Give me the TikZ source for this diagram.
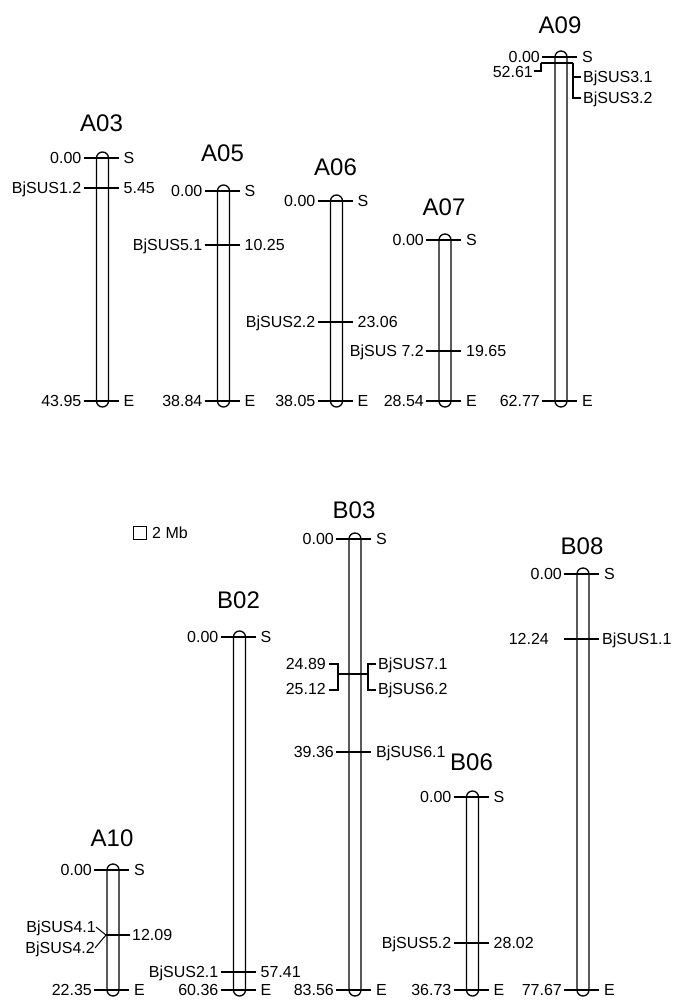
\documentclass[tikz,border=0pt]{standalone}
\usepackage{fontspec}
\setmainfont{Liberation Sans}
\tikzset{
  chr/.style={draw, line width=1.3pt, rounded corners=6pt},
  tk/.style={line width=1.3pt},
  lab/.style={font=\fontsize{16}{16}\selectfont, inner sep=0pt, text height=11.5pt, text depth=0pt},
  ttl/.style={font=\fontsize{24}{24}\selectfont, inner sep=0pt, text height=17pt, text depth=0pt},
}
% #1 id, #2 cx, #3 y, #4 left text, #5 right text
\newcommand\chrtick[5]{%
  \coordinate (#1-l) at ({#2-19},#3);
  \coordinate (#1-r) at ({#2+16},#3);
  \draw[tk] (#1-l) -- (#1-r);
  \node[lab,anchor=east] (#1-lt) at ({#2-21},#3) {#4};
  \node[lab,anchor=west] (#1-rt) at ({#2+21},#3) {#5};
}
% #1 id, #2 cx, #3 top, #4 bottom, #5 title, #6 end value, #7 title y
\newcommand\chromo[7]{%
  \draw[chr] ({#2-6},{#3-6}) rectangle ({#2+6},{#4+6});
  \node[ttl] (#1) at ({#2-1},#7) {#5};
  \chrtick{#1s}{#2}{#3}{0.00}{S}
  \chrtick{#1e}{#2}{#4}{#6}{E}
}
\begin{document}
\begin{tikzpicture}[x=1pt,y=-1pt]
\useasboundingbox (0,0) rectangle (675,1000);
% top row
\chromo{A03}{102.5}{158}{401}{A03}{43.95}{123.5}
\chrtick{A03a}{102.5}{188}{BjSUS1.2}{5.45}
\chromo{A05}{223.5}{191}{401}{A05}{38.84}{153}
\chrtick{A05a}{223.5}{245}{BjSUS5.1}{10.25}
\chromo{A06}{336.5}{201}{401}{A06}{38.05}{167}
\chrtick{A06a}{336.5}{322}{BjSUS2.2}{23.06}
\chromo{A07}{445}{240}{401}{A07}{28.54}{207}
\chrtick{A07a}{445}{351}{BjSUS 7.2}{19.65}
\chromo{A09}{561}{57}{401}{A09}{62.77}{25}
% A09 clustered genes
\coordinate (A09b-l) at (541,63);
\coordinate (A09b-r) at (573,63);
\draw[tk] (A09b-l) -- (A09b-r);
\node[lab,anchor=east] (A09b-lt) at (533,72) {52.61};
\node[lab,anchor=west] (A09b-r1) at (583,77) {BjSUS3.1};
\node[lab,anchor=west] (A09b-r2) at (583,98) {BjSUS3.2};
\draw[tk] (A09b-l) -- (541,71) -- (534,71);
\draw[tk] (A09b-r) -- (573,98) -- (581,98);
\draw[tk] (573,77) -- (581,77);
% scale
\node[draw, line width=0.8pt, minimum size=13pt, inner sep=0pt] (sq) at (139.5,533) {};
\node[lab,anchor=west] (mb) at (152,533) {2 Mb};
% bottom row
\chromo{A10}{113}{870}{990}{A10}{22.35}{838}
\coordinate (A10a-l) at (106,935);
\coordinate (A10a-r) at (130,935);
\draw[tk] (A10a-l) -- (A10a-r);
\node[lab,anchor=west] (A10a-rt) at (132,935) {12.09};
\node[lab,anchor=east] (A10a-t1) at (96,927) {BjSUS4.1};
\node[lab,anchor=east] (A10a-t2) at (95,948) {BjSUS4.2};
\draw[line width=1pt] (A10a-t1.east) -- (A10a-l);
\draw[line width=1pt] (A10a-t2.east) -- (A10a-l);
\chromo{B02}{239.5}{637}{990}{B02}{60.36}{600}
\chrtick{B02a}{239.5}{972}{BjSUS2.1}{57.41}
\chromo{B03}{355}{539}{990}{B03}{83.56}{510}
% B03 clustered genes
\coordinate (B03a-l) at (338,674);
\coordinate (B03a-r) at (368,674);
\draw[tk] (B03a-l) -- (B03a-r);
\node[lab,anchor=east] (B03a-l1) at (326,664) {24.89};
\node[lab,anchor=east] (B03a-l2) at (326,689) {25.12};
\node[lab,anchor=west] (B03a-r1) at (378,664) {BjSUS7.1};
\node[lab,anchor=west] (B03a-r2) at (378,689) {BjSUS6.2};
\draw[tk] (329,664) -- (338,664) -- (338,690) -- (329,690);
\draw[tk] (376,664) -- (368,664) -- (368,690) -- (376,690);
\chrtick{B03b}{355}{752}{39.36}{BjSUS6.1}
\chromo{B06}{472.5}{797}{990}{B06}{36.73}{762}
\chrtick{B06a}{472.5}{943}{BjSUS5.2}{28.02}
\chromo{B08}{583}{574}{990}{B08}{77.67}{546}
\coordinate (B08a-l) at (564,639);
\coordinate (B08a-r) at (599,639);
\draw[tk] (B08a-l) -- (B08a-r);
\node[lab,anchor=east] (B08a-lt) at (549,639) {12.24};
\node[lab,anchor=west] (B08a-rt) at (602,639) {BjSUS1.1};
\end{tikzpicture}
\end{document}
